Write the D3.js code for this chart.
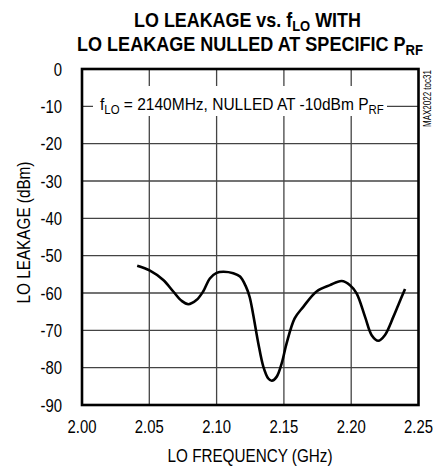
<!DOCTYPE html>
<html><head><meta charset="utf-8">
<script src="https://cdn.jsdelivr.net/npm/d3@7"></script>
<style>body{margin:0;background:#fff}svg{display:block}text{font-family:"Liberation Sans",Arial,sans-serif}</style>
</head><body><svg id="c" width="433" height="470"></svg>
<script>
const freqGHz = [2.041,2.0505,2.0604,2.0678,2.074,2.079,2.085,2.090,2.095,2.100,2.105,2.1124,2.1174,2.1218,2.1245,2.127,2.131,2.1347,2.1384,2.141,2.1447,2.1484,2.152,2.158,2.1644,2.1743,2.1842,2.1929,2.1991,2.204,2.2103,2.2152,2.2201,2.225,2.2313,2.235,2.240];
const leakageDBm = [-52.7,-54.0,-56.5,-59.6,-62.1,-63.0,-61.9,-59.6,-56.1,-54.6,-54.3,-54.7,-55.6,-58.3,-61.0,-65.4,-73.5,-79.7,-82.9,-83.5,-82.4,-78.8,-73.5,-66.8,-63.7,-59.6,-57.9,-56.8,-57.9,-60.1,-66.4,-71.3,-72.8,-71.3,-66.4,-63.2,-58.9];
const xTicks = [2.00,2.05,2.10,2.15,2.20,2.25];
const yTicks = [0,-10,-20,-30,-40,-50,-60,-70,-80,-90];

const svg = d3.select("#c");
const L=82,R=418.5,T=69,B=405;
const x = d3.scaleLinear().domain([2.0,2.25]).range([L,R]);
const y = d3.scaleLinear().domain([-90,0]).range([B,T]);

// place a text horizontally condensed: returns text selection inside a group at (px,py)
function narrowText(parent, px, py, sx, rot) {
  const gg = parent.append("g").attr("transform",`translate(${px},${py})${rot?` rotate(${rot})`:""} scale(${sx},1)`);
  return gg.append("text").attr("x",0).attr("y",0);
}
function fitWidth(textSel, target) {
  const w = textSel.node().getComputedTextLength();
  const gg = d3.select(textSel.node().parentNode);
  const tr = gg.attr("transform").replace(/scale\([^)]*\)/, `scale(${target/w},1)`);
  gg.attr("transform", tr);
}

// grid
const g = svg.append("g");
g.selectAll(".vx").data(xTicks.slice(1,-1)).join("line")
 .attr("x1",d=>x(d)).attr("x2",d=>x(d)).attr("y1",T).attr("y2",B)
 .attr("stroke","#444").attr("stroke-width",1.3);
g.selectAll(".hy").data(yTicks.slice(1,-1)).join("line")
 .attr("x1",L).attr("x2",R).attr("y1",d=>y(d)).attr("y2",d=>y(d))
 .attr("stroke","#444").attr("stroke-width",1.3);

// annotation box
svg.append("rect").attr("x",93).attr("y",86).attr("width",294).attr("height",30).attr("fill","#fff");
const ann = narrowText(svg, 100, 110, 1).attr("font-size",17).attr("fill","#000");
ann.append("tspan").text("f");
ann.append("tspan").attr("font-size",12.5).attr("dy",4).text("LO");
ann.append("tspan").attr("dy",-4).text(" = 2140MHz, NULLED AT -10dBm P");
ann.append("tspan").attr("font-size",12.5).attr("dy",4).text("RF");
fitWidth(ann, 284);

// curve
svg.append("path").datum(freqGHz.map((f,i)=>[f,leakageDBm[i]]))
 .attr("d",d3.line().x(d=>x(d[0])).y(d=>y(d[1])).curve(d3.curveCatmullRom))
 .attr("fill","none").attr("stroke","#000").attr("stroke-width",2.6).attr("stroke-linejoin","round");

// frame
svg.append("rect").attr("x",L).attr("y",T).attr("width",R-L).attr("height",B-T)
 .attr("fill","none").attr("stroke","#000").attr("stroke-width",2.6);

// tick labels
const tickSx = 0.85;
xTicks.forEach(v=>{
  narrowText(svg, x(v), 433, tickSx).attr("text-anchor","middle").attr("font-size",17.5).text(v.toFixed(2));
});
yTicks.forEach(v=>{
  narrowText(svg, 62, y(v)+6.5, tickSx).attr("text-anchor","end").attr("font-size",17.5).text(String(v));
});

const xt = narrowText(svg, 250, 462, 1).attr("text-anchor","middle").attr("font-size",17.5).text("LO FREQUENCY (GHz)");
fitWidth(xt, 165);
const yt = narrowText(svg, 29.5, 232.5, 1, -90).attr("text-anchor","middle").attr("font-size",17.5).text("LO LEAKAGE (dBm)");
fitWidth(yt, 142);

const mx = narrowText(svg, 431, 127, 1, -90).attr("font-size",11).text("MAX2022 toc31");
fitWidth(mx, 57);

// title
const t1 = narrowText(svg, 247.5, 27.3, 1).attr("text-anchor","middle").attr("font-size",20).attr("font-weight","bold");
t1.append("tspan").text("LO LEAKAGE vs. f");
t1.append("tspan").attr("font-size",14.5).attr("dy",4).text("LO");
t1.append("tspan").attr("dy",-4).text(" WITH");
fitWidth(t1, 227);
const t2 = narrowText(svg, 250, 50.5, 1).attr("text-anchor","middle").attr("font-size",20).attr("font-weight","bold");
t2.append("tspan").text("LO LEAKAGE NULLED AT SPECIFIC P");
t2.append("tspan").attr("font-size",14.5).attr("dy",4).text("RF");
fitWidth(t2, 346);
</script></body></html>
